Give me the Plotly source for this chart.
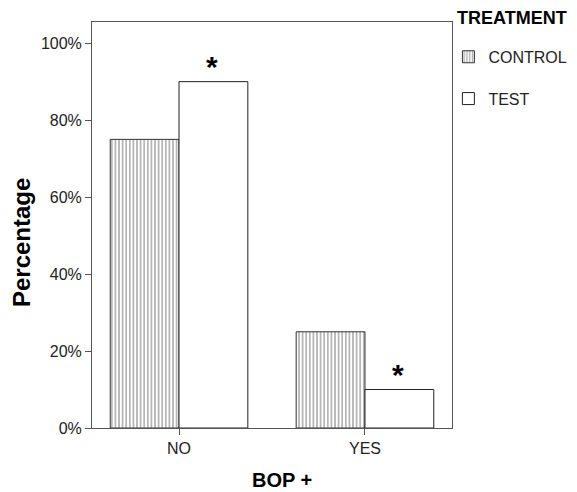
import plotly.graph_objects as go

categories = ["NO", "YES"]
control_values = [0.75, 0.25]
test_values = [0.90, 0.10]
y_ticks = [0, 0.2, 0.4, 0.6, 0.8, 1.0]
y_tick_labels = ["0%", "20%", "40%", "60%", "80%", "100%"]
significant = ["*", "*"]

fig = go.Figure()
fig.add_trace(go.Bar(
    x=categories, y=control_values, name="CONTROL", legendgroup="c",
    marker=dict(color="white", line=dict(color="#333333", width=1),
                pattern=dict(shape="|", fgcolor="#4a4a4a", bgcolor="white", size=3.6, solidity=0.4)),
))
fig.add_trace(go.Bar(
    x=categories, y=test_values, name="TEST", legendgroup="t",
    marker=dict(color="white", line=dict(color="#222222", width=1)),
))

for cat, v, s in zip(categories, test_values, significant):
    fig.add_annotation(x=cat, y=v, text="<b>" + s + "</b>", showarrow=False,
                       xshift=33, yshift=-3, yanchor="bottom",
                       font=dict(size=30, color="black", family="Arial"))

fig.add_annotation(xref="paper", yref="paper", x=1.008, y=1.01, xanchor="left", yanchor="middle",
                   text="<b>TREATMENT</b>", showarrow=False, font=dict(size=18, color="black"))
fig.add_annotation(xref="paper", yref="paper", x=-0.194, y=0.456, xanchor="center", yanchor="middle",
                   textangle=-90, text="<b>Percentage</b>", showarrow=False,
                   font=dict(size=24, color="black"))
fig.add_annotation(xref="paper", yref="paper", x=0.528, y=-0.128, xanchor="center", yanchor="middle",
                   text="<b>BOP +</b>", showarrow=False, font=dict(size=20, color="black"))

fig.update_layout(
    width=577, height=492,
    margin=dict(l=92, r=125, t=22, b=64, autoexpand=False),
    paper_bgcolor="white", plot_bgcolor="white",
    barmode="group", bargap=0.26, bargroupgap=0,
    font=dict(family="Arial", color="#222222", size=16),
    legend=dict(x=0.99, xanchor="left", y=0.956, yanchor="top",
                font=dict(size=16, color="#222222"), traceorder="grouped", tracegroupgap=18,
                itemwidth=30, bgcolor="rgba(0,0,0,0)"),
    showlegend=True,
)
fig.update_xaxes(range=[-0.468, 1.468], showline=True, linecolor="#555555", linewidth=1,
                 mirror=True, ticks="outside", ticklen=6, tickcolor="#555555", automargin=False,
                 tickfont=dict(size=16))
fig.update_yaxes(range=[0, 1.055], tickvals=y_ticks, ticktext=y_tick_labels,
                 showline=True, linecolor="#555555", linewidth=1, mirror=True, automargin=False,
                 ticks="outside", ticklen=6, tickcolor="#555555", showgrid=False, zeroline=False,
                 tickfont=dict(size=16))

fig.write_html("out.html", config={"displayModeBar": False},
               post_script="document.body.style.margin='0';document.body.style.overflow='hidden';")
